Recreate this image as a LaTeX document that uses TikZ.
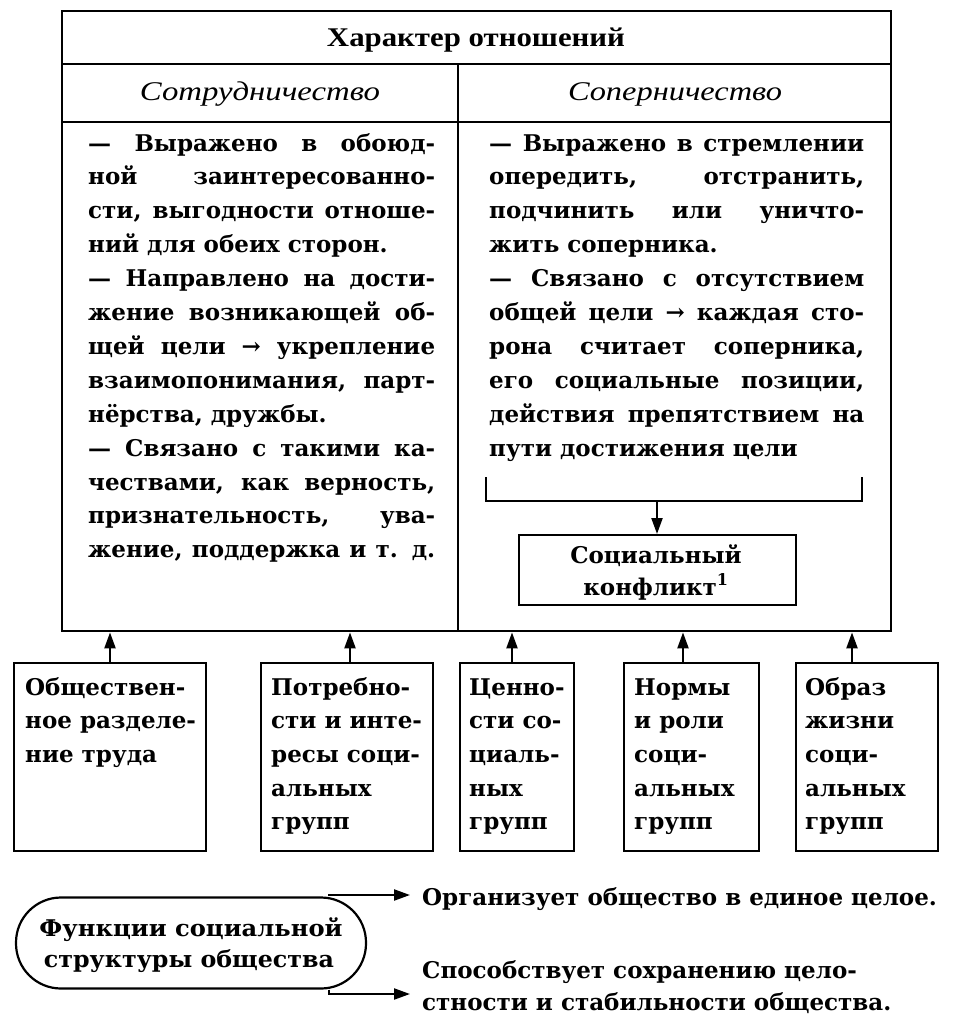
\documentclass[tikz,border=0pt]{standalone}
\usepackage{fontspec}
\usepackage{graphicx}
\setmainfont{DejaVu Serif}
\newfontfamily\headf{Liberation Serif}
\usetikzlibrary{arrows.meta}
\newlength\jlw
\newcommand\jline[2]{\settowidth\jlw{#2}\ifdim\jlw>#1\relax\resizebox{#1}{\height}{#2}\else\makebox[#1][s]{#2}\fi}
\newcommand\fitw[2]{\resizebox{#1}{\height}{#2}}
\newcommand\lineL[3]{\node[txt] (#1) at (88,#2) {\jline{347pt}{#3}};}
\newcommand\lastL[3]{\node[txt] (#1) at (88,#2) {#3};}
\newcommand\lineR[3]{\node[txt] (#1) at (489,#2) {\jline{375pt}{#3}};}
\newcommand\lastR[3]{\node[txt] (#1) at (489,#2) {#3};}
\tikzset{
  frame/.style={draw, line width=2.4pt, inner sep=0pt, anchor=north west},
  rule/.style={draw, line width=2.4pt},
  txt/.style={anchor=base west, inner sep=0pt, font=\bfseries\fontsize{23}{27}\selectfont},
  ctxt/.style={anchor=base, inner sep=0pt, font=\bfseries\fontsize{23}{27}\selectfont},
  head/.style={anchor=base, inner sep=0pt, font=\headf\bfseries\fontsize{27}{30}\selectfont},
  ital/.style={anchor=base, inner sep=0pt, font=\headf\itshape\fontsize{27}{30}\selectfont},
  arr/.style={line width=2.2pt, -{Triangle[length=16pt,width=11pt]}},
  brk/.style={draw, line width=2pt},
}
\begin{document}
\begin{tikzpicture}[x=1pt,y=-1pt]
\useasboundingbox (0,0) rectangle (954,1030);
% main table
\node[frame, minimum width=829pt, minimum height=620pt] (main) at (61,10) {};
\coordinate (h1) at (61,64);
\coordinate (h2) at (61,122);
\coordinate (dv) at (458,64);
\draw[rule] (h1) -- (h1 -| main.east);
\draw[rule] (h2) -- (h2 -| main.east);
\draw[rule] (dv) -- (dv |- main.south);
\node[head] (title) at (476,47) {\fitw{298pt}{Характер отношений}};
\node[ital] (coop) at (260,101) {\fitw{240pt}{Сотрудничество}};
\node[ital] (riv) at (675,101) {\fitw{214pt}{Соперничество}};
% left column
\lineL{L1}{151}{— Выражено в обоюд-}
\lineL{L2}{184.9}{ной заинтересованно-}
\lineL{L3}{218.8}{сти, выгодности отноше-}
\lastL{L4}{252.7}{ний для обеих сторон.}
\lineL{L5}{286.6}{— Направлено на дости-}
\lineL{L6}{320.5}{жение возникающей об-}
\lineL{L7}{354.4}{щей цели → укрепление}
\lineL{L8}{388.3}{взаимопонимания, парт-}
\lastL{L9}{422.2}{нёрства, дружбы.}
\lineL{L10}{456.1}{— Связано с такими ка-}
\lineL{L11}{490}{чествами, как верность,}
\lineL{L12}{523.9}{признательность, ува-}
\lineL{L13}{557.8}{жение, поддержка и т. д.}
% right column
\lineR{R1}{151}{— Выражено в стремлении}
\lineR{R2}{184.9}{опередить, отстранить,}
\lineR{R3}{218.8}{подчинить или уничто-}
\lastR{R4}{252.7}{жить соперника.}
\lineR{R5}{286.6}{— Связано с отсутствием}
\lineR{R6}{320.5}{общей цели → каждая сто-}
\lineR{R7}{354.4}{рона считает соперника,}
\lineR{R8}{388.3}{его социальные позиции,}
\lineR{R9}{422.2}{действия препятствием на}
\lastR{R10}{456.1}{пути достижения цели}
% bracket and social conflict
\coordinate (bl) at (486,477);
\coordinate (br) at (862,477);
\coordinate (bm) at (657,501);
\draw[brk] (bl) |- (bm) -| (br);
\node[frame, line width=2.2pt, minimum width=277pt, minimum height=70pt] (sc) at (518,534) {};
\draw[arr] (bm) -- (bm |- sc.north);
\node[ctxt] (sc1) at (656,563) {Социальный};
\node[ctxt] (sc2) at (656,595) {конфликт\textsuperscript{1}};
% bottom boxes
\node[frame, minimum width=192pt, minimum height=188pt] (b1) at (13,662) {};
\node[frame, minimum width=172pt, minimum height=188pt] (b2) at (260,662) {};
\node[frame, minimum width=114pt, minimum height=188pt] (b3) at (459,662) {};
\node[frame, minimum width=135pt, minimum height=188pt] (b4) at (623,662) {};
\node[frame, minimum width=142pt, minimum height=188pt] (b5) at (795,662) {};
\coordinate (t1) at (110,662);
\coordinate (t2) at (350,662);
\coordinate (t3) at (512,662);
\coordinate (t4) at (683,662);
\coordinate (t5) at (852,662);
\foreach \t in {t1,t2,t3,t4,t5} {\draw[arr] (\t) -- (\t |- main.south);}
\node[txt] (b1a) at (25,695) {Обществен-};
\node[txt] (b1b) at (25,728.7) {ное разделе-};
\node[txt] (b1c) at (25,762.4) {ние труда};
\node[txt] (b2a) at (271,695) {Потребно-};
\node[txt] (b2b) at (271,728.7) {сти и инте-};
\node[txt] (b2c) at (271,762.4) {ресы соци-};
\node[txt] (b2d) at (271,796.1) {альных};
\node[txt] (b2e) at (271,829.8) {групп};
\node[txt] (b3a) at (469,695) {Ценно-};
\node[txt] (b3b) at (469,728.7) {сти со-};
\node[txt] (b3c) at (469,762.4) {циаль-};
\node[txt] (b3d) at (469,796.1) {ных};
\node[txt] (b3e) at (469,829.8) {групп};
\node[txt] (b4a) at (634,695) {Нормы};
\node[txt] (b4b) at (634,728.7) {и роли};
\node[txt] (b4c) at (634,762.4) {соци-};
\node[txt] (b4d) at (634,796.1) {альных};
\node[txt] (b4e) at (634,829.8) {групп};
\node[txt] (b5a) at (805,695) {Образ};
\node[txt] (b5b) at (805,728.7) {жизни};
\node[txt] (b5c) at (805,762.4) {соци-};
\node[txt] (b5d) at (805,796.1) {альных};
\node[txt] (b5e) at (805,829.8) {групп};
% functions
\node[draw, line width=2.2pt, rounded corners=45pt, minimum width=350pt, minimum height=91pt, inner sep=0pt] (fun) at (191,943) {};
\node[ctxt] (fun1) at (191,936) {\fitw{303pt}{Функции социальной}};
\node[ctxt] (fun2) at (189,967) {\fitw{290pt}{структуры общества}};
\node[txt] (o1) at (422,905) {Организует общество в единое целое.};
\node[txt] (o2a) at (422,978) {Способствует сохранению цело-};
\node[txt] (o2b) at (422,1010) {стности и стабильности общества.};
\coordinate (a1) at (410,895);
\coordinate (a2) at (410,994);
\draw[arr] ([xshift=-38pt]fun.north east) |- (a1);
\draw[arr] ([xshift=-38pt]fun.south east) |- (a2);
\end{tikzpicture}
\end{document}
